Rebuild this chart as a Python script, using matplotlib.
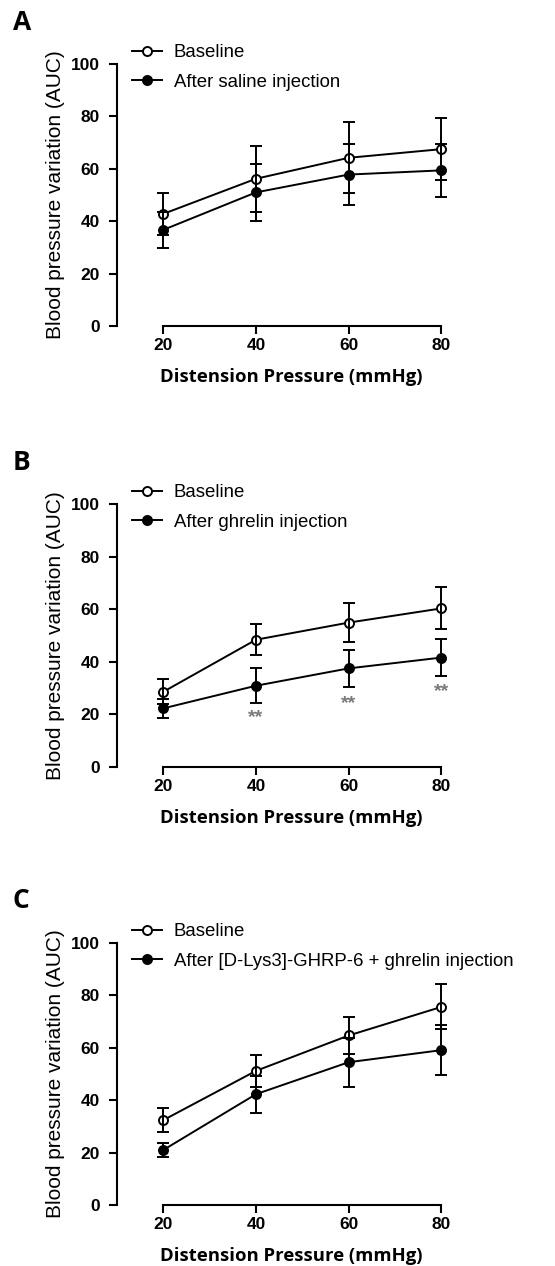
import matplotlib
matplotlib.use("Agg")
import matplotlib.pyplot as plt
from matplotlib.lines import Line2D
from matplotlib.font_manager import FontProperties

pressure = [20, 40, 60, 80]

# Panel A
a_base = [42.8, 56.2, 64.2, 67.5]
a_base_err = [8.0, 12.6, 13.5, 11.9]
a_trt = [36.7, 51.0, 57.8, 59.4]
a_trt_err = [7.0, 10.8, 11.5, 10.2]

# Panel B
b_base = [28.6, 48.4, 54.9, 60.3]
b_base_err = [4.8, 6.0, 7.5, 8.0]
b_trt = [22.3, 30.9, 37.5, 41.6]
b_trt_err = [3.7, 6.6, 7.0, 7.0]
b_star_x = [40, 60, 80]
b_star_y = [20.5, 25.6, 30.4]

# Panel C
c_base = [32.4, 51.2, 64.7, 75.6]
c_base_err = [4.6, 6.0, 7.1, 8.6]
c_trt = [21.0, 42.3, 54.5, 59.1]
c_trt_err = [2.7, 7.1, 9.4, 9.5]

panel_letters = ["A", "B", "C"]
base_label = "Baseline"
trt_labels = ["After saline injection", "After ghrelin injection",
              "After [D-Lys3]-GHRP-6 + ghrelin injection"]
yticks = [0, 20, 40, 60, 80, 100]
xlabel = "Distension Pressure (mmHg)"
ylabel = "Blood pressure variation (AUC)"

W, H = 555, 1266
fig = plt.figure(figsize=(W / 100, H / 100), dpi=100)

tick_fp = FontProperties(family="Liberation Sans", weight="bold", size=12.5)

# pixel layout: (top of y=100, y=0 line, letter y)
layouts = [(64, 326, 23), (504, 767, 462), (943, 1205, 900)]
datasets = [
    (a_base, a_base_err, a_trt, a_trt_err),
    (b_base, b_base_err, b_trt, b_trt_err),
    (c_base, c_base_err, c_trt, c_trt_err),
]

left_px = 117
x_unit = (442 - 164) / 60.0
xmin, xmax = 10, 85
for i, ((ytop, ybot, lety), (bb, bbe, tt, tte)) in enumerate(zip(layouts, datasets)):
    width_px = (xmax - xmin) * x_unit
    ax = fig.add_axes([left_px / W, (H - ybot) / H, width_px / W, (ybot - ytop) / H])
    ax.set_xlim(xmin, xmax)
    ax.set_ylim(0, 100)
    for s in ["top", "right"]:
        ax.spines[s].set_visible(False)
    ax.spines["left"].set_bounds(0, 100)
    ax.spines["bottom"].set_bounds(20, 80)
    ax.spines["left"].set_linewidth(1.5)
    ax.spines["bottom"].set_linewidth(1.5)
    ax.set_yticks(yticks)
    ax.set_xticks(pressure)
    ax.tick_params(axis="y", length=5.5, width=1.5, pad=7)
    ax.tick_params(axis="x", length=5.5, width=1.5, pad=3)
    for lab in ax.get_xticklabels() + ax.get_yticklabels():
        lab.set_fontproperties(tick_fp)
    ax.patch.set_alpha(0)

    ax.plot(pressure, bb, color="black", lw=1.4, marker="o", ms=6.5,
            mfc="white", mec="black", mew=1.4, zorder=3, clip_on=False)
    ax.plot(pressure, tt, color="black", lw=1.4, marker="o", ms=6.5,
            mfc="black", mec="black", mew=1.4, zorder=3, clip_on=False)
    ax.errorbar(pressure, bb, yerr=bbe, fmt="none", ecolor="black", elinewidth=1.4,
                capsize=4, capthick=1.4, zorder=4, clip_on=False)
    ax.errorbar(pressure, tt, yerr=tte, fmt="none", ecolor="black", elinewidth=1.4,
                capsize=4, capthick=1.4, zorder=4, clip_on=False)

    if i == 1:
        for sx, sy in zip(b_star_x, b_star_y):
            ax.annotate("**", (sx, sy), xytext=(0, -3), textcoords="offset points",
                        color="#7a7a7a", fontsize=14, fontweight="bold",
                        ha="center", va="center", family="Liberation Sans")

    ax.set_xlabel(xlabel, fontsize=13.3, fontweight="bold", family="Open Sans", labelpad=11)
    ax.set_ylabel(ylabel, fontsize=15, family="Liberation Sans", labelpad=4)

    handles = [
        Line2D([], [], color="black", lw=1.4, marker="o", ms=6.5, mfc="white", mec="black", mew=1.4),
        Line2D([], [], color="black", lw=1.4, marker="o", ms=6.5, mfc="black", mec="black", mew=1.4),
    ]
    fig.legend(handles, [base_label, trt_labels[i]], loc="upper left",
               bbox_to_anchor=(132 / W, (H - (ytop - 20)) / H),
               frameon=False, prop=dict(family="Liberation Sans", size=13.4),
               handlelength=1.6, handletextpad=0.65, labelspacing=0.68,
               borderpad=0, borderaxespad=0)

    fig.text(13 / W, (H - lety) / H, panel_letters[i], fontsize=19, fontweight="bold",
             family="Open Sans", ha="left", va="center")

fig.savefig("out.png", dpi=100)
